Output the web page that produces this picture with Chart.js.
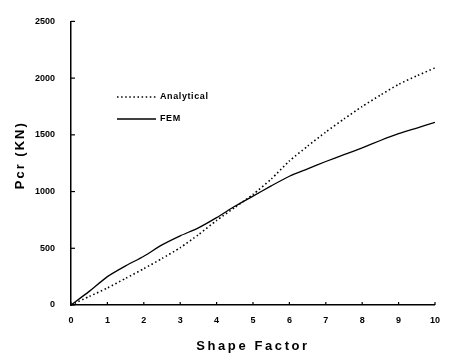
<!DOCTYPE html>
<html><head><meta charset="utf-8">
<script src="https://cdn.jsdelivr.net/npm/chart.js@4"></script>
<style>html,body{margin:0;padding:0;background:#fff}canvas{display:block}</style>
</head><body>
<canvas id="c" width="450" height="356"></canvas>
<script>
const shapeFactor = [0,0.5,1,1.5,2,2.5,3,3.5,4,4.5,5,5.5,6,6.5,7,7.5,8,8.5,9,9.5,10];
const analytical = [0,75,150,235,320,410,505,620,745,860,975,1110,1270,1400,1525,1640,1750,1850,1945,2020,2090];
const fem = [0,120,250,345,430,530,610,680,770,870,960,1050,1135,1200,1265,1325,1385,1450,1510,1560,1610];
const xTicks = [0,1,2,3,4,5,6,7,8,9,10];
const yTicks = [0,500,1000,1500,2000,2500];
const seriesNames = ['Analytical','FEM'];
const xTitle = 'Shape Factor';
const yTitle = 'Pcr (KN)';

const FONT = '"Liberation Sans", Arial, sans-serif';
const toPts = arr => arr.map((v,i)=>({x:shapeFactor[i], y:v}));

const extras = {
  id:'extras',
  beforeDraw(chart){
    const xs = chart.scales.x, ys = chart.scales.y;
    if(!xs._patched){
      const ox = xs.drawTitle.bind(xs);
      xs.drawTitle = function(){ const c=this.ctx; c.save(); c.letterSpacing='2.6px'; ox(); c.restore(); };
      xs._patched = true;
      const oy = ys.drawTitle.bind(ys);
      ys.drawTitle = function(){ const c=this.ctx; c.save(); c.letterSpacing='2px'; c.translate(0,-8); oy(); c.restore(); };
    }
  },
  afterDraw(chart){
    const ctx = chart.ctx, xs = chart.scales.x, ys = chart.scales.y;
    const a = chart.chartArea;
    ctx.save();
    ctx.strokeStyle='#000'; ctx.lineWidth=1.2;
    yTicks.forEach(v=>{ const y=ys.getPixelForValue(v); ctx.beginPath(); ctx.moveTo(a.left,y); ctx.lineTo(a.left+4,y); ctx.stroke(); });
    xTicks.forEach(v=>{ const x=xs.getPixelForValue(v); ctx.beginPath(); ctx.moveTo(x,a.bottom); ctx.lineTo(x,a.bottom-3); ctx.stroke(); });
    // legend
    const ly = [97,119];
    chart.data.datasets.forEach((ds,i)=>{
      ctx.beginPath();
      ctx.lineWidth = ds.borderWidth;
      ctx.setLineDash(ds.borderDash||[]);
      ctx.moveTo(117,ly[i]); ctx.lineTo(156,ly[i]); ctx.stroke();
      ctx.setLineDash([]);
      ctx.fillStyle='#000';
      ctx.font='bold 9px '+FONT;
      ctx.letterSpacing='0.6px';
      ctx.textBaseline='middle';
      ctx.fillText(ds.label,160,ly[i]);
    });
    ctx.restore();
  }
};

new Chart(document.getElementById('c'), {
  type:'line',
  data:{ datasets:[
    {label:seriesNames[0], data:toPts(analytical), borderColor:'#000', borderWidth:1.6, borderDash:[1.5,2.6], pointRadius:0, tension:0.2, fill:false},
    {label:seriesNames[1], data:toPts(fem), borderColor:'#000', borderWidth:1.3, pointRadius:0, tension:0.2, fill:false}
  ]},
  options:{
    responsive:false, animation:false, devicePixelRatio:1,
    layout:{padding:{left:0,top:12,right:7,bottom:0}},
    plugins:{legend:{display:false}, tooltip:{enabled:false}},
    scales:{
      x:{type:'linear', min:0, max:10,
        afterBuildTicks(s){ s.ticks = xTicks.map(v=>({value:v})); },
        afterFit(s){ s.height = 51; },
        grid:{display:false, drawTicks:false},
        border:{display:true, color:'#000', width:1.5},
        ticks:{padding:10, color:'#000', font:{family:FONT, size:9, weight:'bold'}, maxRotation:0, autoSkip:false, callback:v=>String(v)},
        title:{display:true, text:xTitle, color:'#000', font:{family:FONT, size:13, weight:'bold'}, padding:{top:0,bottom:2}}
      },
      y:{type:'linear', min:0, max:2500,
        afterBuildTicks(s){ s.ticks = yTicks.map(v=>({value:v})); },
        afterFit(s){ s.width = 71; },
        grid:{display:false, drawTicks:false},
        border:{display:true, color:'#000', width:1.5},
        ticks:{padding:16, color:'#000', font:{family:FONT, size:9, weight:'bold'}, autoSkip:false, callback:v=>String(v)},
        title:{display:true, text:yTitle, color:'#000', font:{family:FONT, size:13, weight:'bold'}, padding:{top:13,bottom:0}}
      }
    }
  },
  plugins:[extras]
});
</script>
</body></html>
